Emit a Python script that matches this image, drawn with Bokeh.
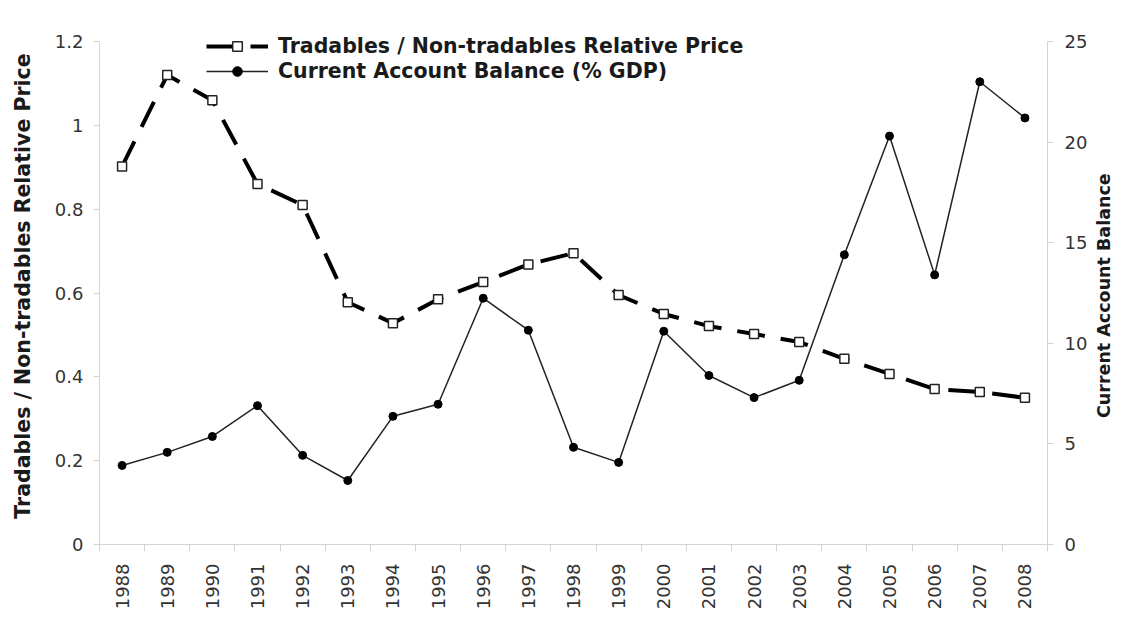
from bokeh.plotting import figure
from bokeh.layouts import row
from bokeh.models import (Range1d, LinearAxis, FixedTicker, NumeralTickFormatter,
                          Legend, LegendItem, ColumnDataSource)
from bokeh.core.properties import value
from bokeh.embed import file_html
from bokeh.resources import INLINE
import math

years = [1988, 1989, 1990, 1991, 1992, 1993, 1994, 1995, 1996, 1997, 1998,
         1999, 2000, 2001, 2002, 2003, 2004, 2005, 2006, 2007, 2008]
rel_price = [0.902, 1.12, 1.06, 0.86, 0.81, 0.578, 0.528, 0.585, 0.626, 0.668, 0.695,
             0.595, 0.55, 0.521, 0.502, 0.483, 0.443, 0.407, 0.371, 0.364, 0.35]
ca_balance = [3.93, 4.58, 5.37, 6.9, 4.43, 3.18, 6.37, 6.97, 12.24, 10.65, 4.83,
              4.08, 10.6, 8.4, 7.3, 8.16, 14.4, 20.3, 13.4, 23.0, 21.2]
left_ticks = [0, 0.2, 0.4, 0.6, 0.8, 1.0, 1.2]
right_ticks = [0, 5, 10, 15, 20, 25]
right_title = "Current Account Balance"

xs = list(range(len(years)))
src = ColumnDataSource(dict(x=xs, rp=rel_price, ca=ca_balance))

FONT = "DejaVu Sans"
TICK_SIZE = "18px"
TITLE_SIZE = "20.5px"

AX_H = 503      # pixel height of the 0..max axis span
EXTRA = 14      # headroom above the axes (for the legend)
FH = AX_H + EXTRA
scale = FH / AX_H
TOP = 41 - EXTRA
BOTTOM = 70
TOTAL_H = TOP + FH + BOTTOM

p = figure(frame_width=948, frame_height=FH, output_backend="svg", toolbar_location=None,
           x_range=Range1d(-0.5, len(years) - 0.5), y_range=Range1d(0, 1.2 * scale),
           min_border_left=99, min_border_right=41, min_border_top=TOP,
           min_border_bottom=BOTTOM,
           background_fill_color="white", border_fill_color="white")
p.outline_line_color = None
p.xgrid.visible = False
p.ygrid.visible = False

p.extra_y_ranges = {"ca": Range1d(0, 25 * scale)}

axis_col = "#d4d4d4"
lab_col = "#333333"

# x axis
xa = p.xaxis[0]
xa.ticker = FixedTicker(ticks=xs, minor_ticks=[i - 0.5 for i in range(len(years) + 1)])
xa.major_label_overrides = {i: str(y) for i, y in enumerate(years)}
xa.major_label_orientation = math.pi / 2
xa.major_tick_line_color = None
xa.minor_tick_out = 7
xa.minor_tick_in = 0
xa.minor_tick_line_color = axis_col
xa.axis_line_color = axis_col
xa.major_label_text_font = FONT
xa.major_label_text_font_size = TICK_SIZE
xa.major_label_text_color = lab_col
xa.major_label_standoff = 12

# left axis
ya = p.yaxis[0]
ya.ticker = FixedTicker(ticks=left_ticks)
ya.bounds = (0, 1.2)
ya.formatter = NumeralTickFormatter(format="0.[0]")
ya.axis_label = "Tradables / Non-tradables Relative Price"
ya.axis_label_text_font = FONT
ya.axis_label_text_font_style = "bold"
ya.axis_label_text_font_size = TITLE_SIZE
ya.axis_label_text_color = "#1a1a1a"
ya.axis_label_standoff = 17
ya.major_label_text_font = FONT
ya.major_label_text_font_size = TICK_SIZE
ya.major_label_text_color = lab_col
ya.axis_line_color = axis_col
ya.major_tick_line_color = axis_col
ya.major_tick_out = 6
ya.major_tick_in = 0
ya.minor_tick_line_color = None
ya.major_label_standoff = 10

# right axis (its title is drawn in a narrow strip to the right)
ra = LinearAxis(y_range_name="ca", ticker=FixedTicker(ticks=right_ticks), bounds=(0, 25))
ra.major_label_text_font = FONT
ra.major_label_text_font_size = TICK_SIZE
ra.major_label_text_color = lab_col
ra.axis_line_color = axis_col
ra.major_tick_line_color = axis_col
ra.major_tick_out = 6
ra.major_tick_in = 0
ra.minor_tick_line_color = None
ra.major_label_standoff = 11
p.add_layout(ra, "right")

# series
l2 = p.line("x", "ca", source=src, y_range_name="ca", line_color="#222222", line_width=1.5)
c2 = p.scatter("x", "ca", source=src, y_range_name="ca", marker="circle", size=8,
               fill_color="black", line_color="black")

l1 = p.line("x", "rp", source=src, line_color="black", line_width=4, line_dash="28 16")
s1 = p.scatter("x", "rp", source=src, marker="square", size=9, fill_color="white",
               line_color="#222222", line_width=1.5)

legend = Legend(items=[
    LegendItem(label="Tradables / Non-tradables Relative Price", renderers=[l1, s1]),
    LegendItem(label="Current Account Balance (% GDP)", renderers=[l2, c2]),
], location=(107, 461))
legend.border_line_color = None
legend.background_fill_alpha = 0
legend.label_text_font = FONT
legend.label_text_font_style = "bold"
legend.label_text_font_size = TITLE_SIZE
legend.label_text_color = "#1a1a1a"
legend.glyph_width = 62
legend.glyph_height = 24
legend.label_height = 24
legend.spacing = 1
legend.padding = 0
legend.margin = 0
legend.label_standoff = 10
p.add_layout(legend, "center")

# strip holding the right-hand axis title (pixel coordinates)
STRIP_W = 32
p2 = figure(width=STRIP_W, height=TOTAL_H, output_backend="svg", toolbar_location=None,
            x_range=Range1d(0, STRIP_W), y_range=Range1d(0, TOTAL_H),
            x_axis_location=None, y_axis_location=None,
            min_border=0, min_border_left=0, min_border_right=0,
            min_border_top=0, min_border_bottom=0,
            background_fill_color="white", border_fill_color="white")
p2.outline_line_color = None
p2.xgrid.visible = False
p2.ygrid.visible = False
p2.text(x=[13], y=[TOTAL_H - (TOP + AX_H / 2 + EXTRA) - 26], text=[right_title],
        angle=math.pi / 2, text_align="center", text_baseline="middle",
        text_font=value(FONT), text_font_style="bold", text_font_size="17.5px",
        text_color="#1a1a1a")

layout = row(p, p2)
open("out.html", "w").write(file_html(layout, INLINE))
